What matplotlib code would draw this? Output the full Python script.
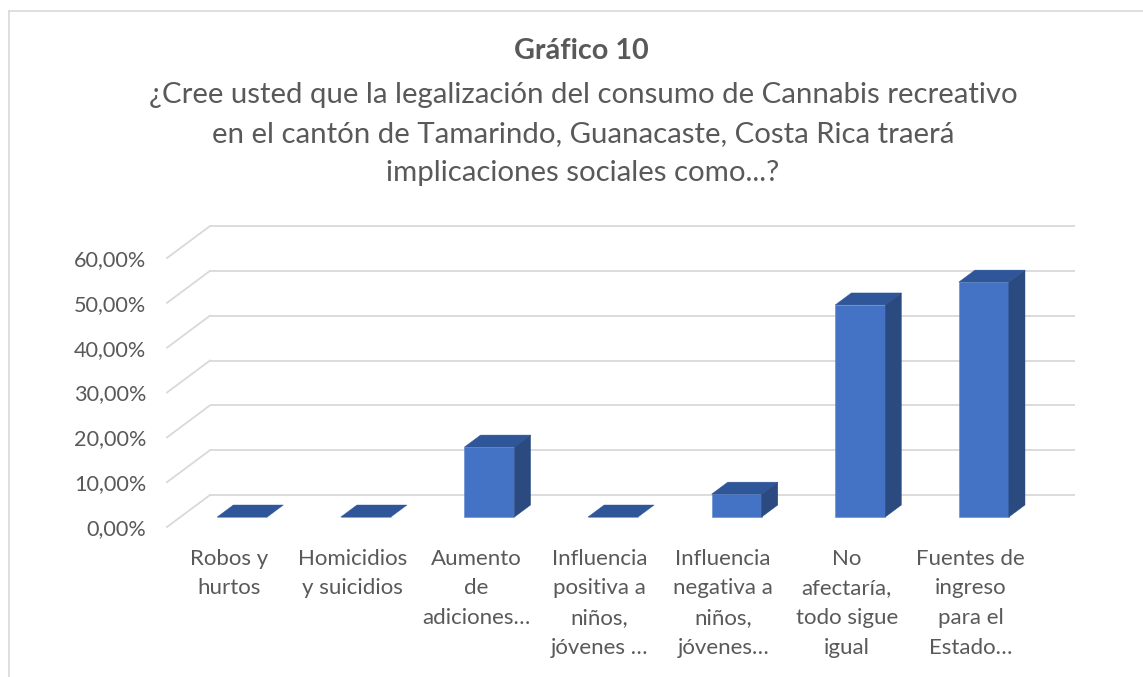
import matplotlib
matplotlib.use("Agg")
import matplotlib.pyplot as plt
from matplotlib.patches import Polygon
from matplotlib.lines import Line2D

# ---------------- data ----------------
categories = [
    "Robos y\nhurtos",
    "Homicidios\ny suicidios",
    "Aumento\nde\nadiciones…",
    "Influencia\npositiva a\nniños,\njóvenes …",
    "Influencia\nnegativa a\nniños,\njóvenes…",
    "No\nafectaría,\ntodo sigue\nigual",
    "Fuentes de\ningreso\npara el\nEstado…",
]
values = [0.0, 0.0, 15.6, 0.0, 5.1, 47.3, 52.4]
yticks = [0, 10, 20, 30, 40, 50, 60]
ytick_labels = ["0,00%", "10,00%", "20,00%", "30,00%", "40,00%", "50,00%", "60,00%"]
title = "Gráfico 10"
subtitle = ("¿Cree usted que la legalización del consumo de Cannabis recreativo\n"
            "en el cantón de Tamarindo, Guanacaste, Costa Rica traerá\n"
            "implicaciones sociales como...?")

# ---------------- style ----------------
FONT = "Lato"
TXT = "#595959"
GRID = "#D9D9D9"
FRONT = "#4472C4"
TOP = "#30569A"
SIDE = "#2A4A80"

W_PX, H_PX = 1143, 677
fig = plt.figure(figsize=(W_PX / 100, H_PX / 100), dpi=100)

# layout (pixel geometry of the front plane)
x0px, catw, y0px, scale = 167.0, 123.6, 527.0, 4.483
DX = 43.0 / catw       # depth shift in category units
DY = 32.0 / scale      # depth shift in value units
xlim = (-0.6, 6.9)
ylim = (-1.0, 68.0)
lpx = x0px + (xlim[0] + 0.5) * catw
rpx = x0px + (xlim[1] + 0.5) * catw
bpx = y0px - ylim[0] * scale
tpx = y0px - ylim[1] * scale
ax = fig.add_axes([lpx / W_PX, 1 - bpx / H_PX, (rpx - lpx) / W_PX, (bpx - tpx) / H_PX])
ax.set_xlim(*xlim)
ax.set_ylim(*ylim)
for s in ax.spines.values():
    s.set_visible(False)

# gridlines (back wall + left side wall)
for v in yticks:
    ax.plot([-0.5 + DX, 6.5 + DX], [v + DY, v + DY], color=GRID, lw=1.3, zorder=1,
            solid_capstyle="butt")
    ax.plot([-0.5, -0.5 + DX], [v, v + DY], color=GRID, lw=1.3, zorder=1)

# 3D-like bars
z0, z1 = 0.3125, 0.6875
dz = z1 - z0
hw = 0.2025
xs = [i + z0 * DX for i in range(len(values))]
ax.bar(xs, values, width=2 * hw, bottom=z0 * DY, color=FRONT, zorder=3,
       edgecolor="#5B85CF", linewidth=0.4)
for i, v in enumerate(values):
    xl = xs[i] - hw
    xr = xs[i] + hw
    yb = z0 * DY
    yt = yb + v
    top = Polygon([(xl, yt), (xr, yt), (xr + dz * DX, yt + dz * DY), (xl + dz * DX, yt + dz * DY)],
                  closed=True, facecolor=TOP, edgecolor=TOP, lw=0.3, zorder=4)
    ax.add_patch(top)
    if v > 0:
        side = Polygon([(xr, yb), (xr, yt), (xr + dz * DX, yt + dz * DY), (xr + dz * DX, yb + dz * DY)],
                       closed=True, facecolor=SIDE, edgecolor=SIDE, lw=0.3, zorder=4)
        ax.add_patch(side)

# axes labels
ax.set_yticks(yticks)
ax.set_yticklabels(ytick_labels, fontfamily=FONT, fontsize=15.6, color=TXT)
ax.tick_params(axis="y", length=0, pad=6)
ax.set_xticks(range(len(categories)))
ax.set_xticklabels(categories, fontfamily=FONT, fontsize=16, color=TXT,
                   linespacing=1.6, va="top")
ax.tick_params(axis="x", length=0, pad=12.5)

# titles
fig.text(581 / W_PX, 1 - 51 / H_PX, title, ha="center", va="center",
         fontfamily=FONT, fontweight="bold", fontsize=20.7, color=TXT)
fig.text(583 / W_PX, 1 - 134 / H_PX, subtitle, ha="center", va="center",
         fontfamily=FONT, fontsize=21.2, color=TXT, linespacing=1.62)

# chart frame (top and left edges visible)
fig.add_artist(Line2D([8.5 / W_PX, 1.0], [1 - 10.5 / H_PX, 1 - 10.5 / H_PX],
                      transform=fig.transFigure, color="#D9D9D9", lw=1.2))
fig.add_artist(Line2D([8.5 / W_PX, 8.5 / W_PX], [0, 1 - 10.5 / H_PX],
                      transform=fig.transFigure, color="#D9D9D9", lw=1.2))

fig.savefig("out.png", dpi=100)
